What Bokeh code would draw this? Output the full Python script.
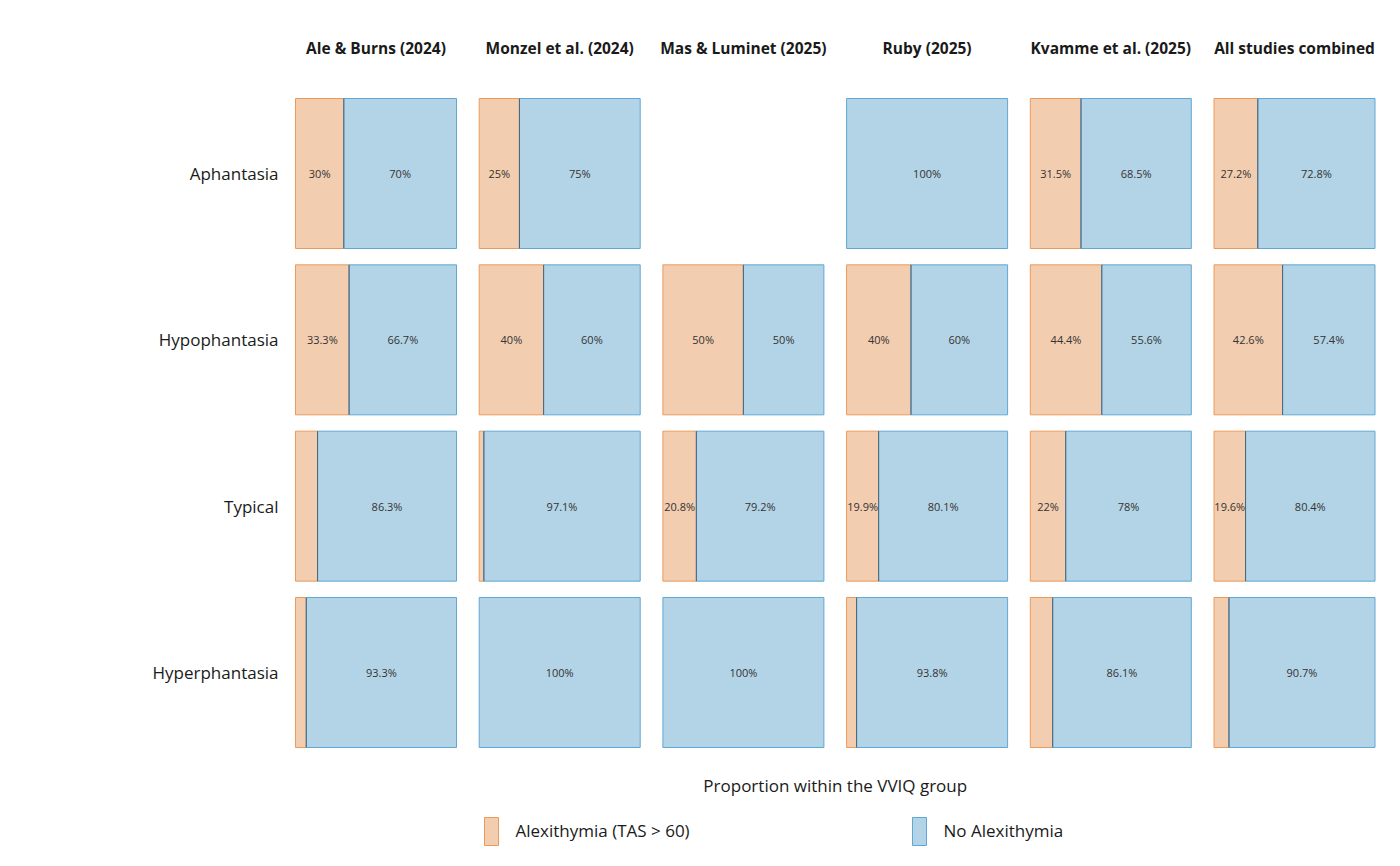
from bokeh.plotting import figure
from bokeh.models import Range1d, ColumnDataSource
from bokeh.core.properties import value
from bokeh.embed import file_html
from bokeh.resources import INLINE

# ---------------- data ----------------
studies = ["Ale & Burns (2024)", "Monzel et al. (2024)", "Mas & Luminet (2025)",
           "Ruby (2025)", "Kvamme et al. (2025)", "All studies combined"]
groups = ["Aphantasia", "Hypophantasia", "Typical", "Hyperphantasia"]
series = ["Alexithymia (TAS > 60)", "No Alexithymia"]
# % with alexithymia in each VVIQ group, per study (None = no participants)
alex_aphantasia = [30.0, 25.0, None, 0.0, 31.5, 27.2]
alex_hypophantasia = [33.3, 40.0, 50.0, 40.0, 44.4, 42.6]
alex_typical = [13.7, 2.9, 20.8, 19.9, 22.0, 19.6]
alex_hyperphantasia = [6.7, 0.0, 0.0, 6.2, 13.9, 9.3]
alex_rows = [alex_aphantasia, alex_hypophantasia, alex_typical, alex_hyperphantasia]

fills = ["#f2cdb0", "#b3d4e6"]
lines = ["#ec9a5a", "#5fa7d5"]
divider_color = "#4d6577"
FONT = "Open Sans"

# ---------------- layout (pixels) ----------------
W, H = 1384, 850
PX_X = 161.0          # pixels per panel (proportion 0..1)
ORIGIN_X = 295.0      # left edge of first panel (px)
PITCH = 183.7 / PX_X  # panel pitch in data units
ROW_PX = 166.33       # pixels per row
ORIGIN_Y = 173.0      # centre of first row (px)
BAR_H = 150.0 / ROW_PX


def fx(px):
    return (px - ORIGIN_X) / PX_X


def fy(py):
    return (py - ORIGIN_Y) / ROW_PX


p = figure(width=W, height=H, output_backend="svg", toolbar_location=None,
           x_range=Range1d(fx(0), fx(W)), y_range=Range1d(fy(H), fy(0)),
           x_axis_location=None, y_axis_location=None, min_border=0)
p.grid.visible = False
p.outline_line_color = None
p.background_fill_color = "white"
p.border_fill_color = "white"

seg = {k: [] for k in ["left", "right", "top", "bottom", "fill", "line"]}
lab = {"x": [], "y": [], "text": []}
div = {"x0": [], "x1": [], "y0": [], "y1": []}

for r, row in enumerate(alex_rows):
    for c, a in enumerate(row):
        if a is None:
            continue
        vals = [a, round(100 - a, 1)]
        start = c * PITCH
        cum = 0.0
        for s, v in enumerate(vals):
            if v <= 0:
                continue
            l = start + cum / 100.0
            rr = start + (cum + v) / 100.0
            seg["left"].append(l)
            seg["right"].append(rr)
            seg["top"].append(r - BAR_H / 2)
            seg["bottom"].append(r + BAR_H / 2)
            seg["fill"].append(fills[s])
            seg["line"].append(lines[s])
            if v >= 15:
                lab["x"].append((l + rr) / 2)
                lab["y"].append(r)
                lab["text"].append(f"{round(v, 1):g}%")
            cum += v
        if 0 < a < 100:
            xd = start + a / 100.0
            div["x0"].append(xd)
            div["x1"].append(xd)
            div["y0"].append(r - BAR_H / 2)
            div["y1"].append(r + BAR_H / 2)

p.quad(left="left", right="right", top="top", bottom="bottom",
       fill_color="fill", line_color="line", line_width=1,
       source=ColumnDataSource(seg))
p.segment(x0="x0", x1="x1", y0="y0", y1="y1", line_color=divider_color,
          line_width=1, source=ColumnDataSource(div))
p.text(x="x", y="y", text="text", source=ColumnDataSource(lab),
       text_align="center", text_baseline="middle",
       text_font=value(FONT), text_font_size="11px", text_color="#333333")

# column titles
p.text(x=[c * PITCH + 0.5 for c in range(len(studies))],
       y=[fy(47)] * len(studies), text=studies,
       text_align="center", text_baseline="middle", text_font=value(FONT),
       text_font_style="bold", text_font_size="15.5px", text_color="#1a1a1a")

# row labels
p.text(x=[fx(278)] * len(groups), y=list(range(len(groups))), text=groups,
       text_align="right", text_baseline="middle", text_font=value(FONT),
       text_font_size="17px", text_color="#1a1a1a")

# axis title
p.text(x=[(len(studies) - 1) * PITCH / 2 + 0.5], y=[fy(785)],
       text=["Proportion within the VVIQ group"],
       text_align="center", text_baseline="middle", text_font=value(FONT),
       text_font_size="17px", text_color="#1a1a1a")

# legend
sw_left = [484, 912]
txt_left = [515, 943]
p.quad(left=[fx(v) for v in sw_left], right=[fx(v + 14) for v in sw_left],
       top=[fy(817)] * 2, bottom=[fy(845)] * 2,
       fill_color=fills, line_color=lines, line_width=1)
p.text(x=[fx(v) for v in txt_left], y=[fy(830)] * 2, text=series,
       text_align="left", text_baseline="middle", text_font=value(FONT),
       text_font_size="17px", text_color="#1a1a1a")

open("out.html", "w").write(file_html(p, INLINE))
